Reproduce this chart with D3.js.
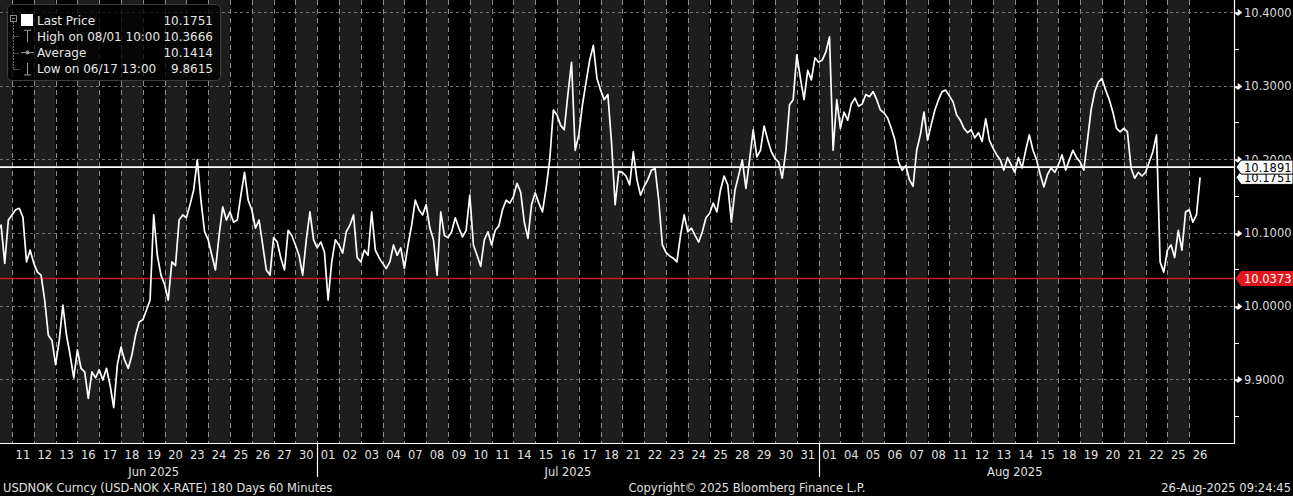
<!DOCTYPE html>
<html>
<head>
<meta charset="utf-8">
<script src="https://cdn.jsdelivr.net/npm/d3@7"></script>
<style>
  html, body { margin: 0; padding: 0; background: #000; overflow: hidden; }
  svg { display: block; }
  text { font-family: "DejaVu Sans", Verdana, sans-serif; }
</style>
</head>
<body>
<svg id="chart" width="1293" height="496"></svg>
<script>
// USDNOK hourly chart, Bloomberg style

const tradingDays = [
  "2025-06-10", "2025-06-11", "2025-06-12", "2025-06-13", "2025-06-16", "2025-06-17", "2025-06-18",
  "2025-06-19", "2025-06-20", "2025-06-23", "2025-06-24", "2025-06-25", "2025-06-26", "2025-06-27",
  "2025-06-30", "2025-07-01", "2025-07-02", "2025-07-03", "2025-07-04", "2025-07-07", "2025-07-08",
  "2025-07-09", "2025-07-10", "2025-07-11", "2025-07-14", "2025-07-15", "2025-07-16", "2025-07-17",
  "2025-07-18", "2025-07-21", "2025-07-22", "2025-07-23", "2025-07-24", "2025-07-25", "2025-07-28",
  "2025-07-29", "2025-07-30", "2025-07-31", "2025-08-01", "2025-08-04", "2025-08-05", "2025-08-06",
  "2025-08-07", "2025-08-08", "2025-08-11", "2025-08-12", "2025-08-13", "2025-08-14", "2025-08-15",
  "2025-08-18", "2025-08-19", "2025-08-20", "2025-08-21", "2025-08-22", "2025-08-25", "2025-08-26"
];

// prices read every 4 hours, one row per trading day
const prices = [
  [10.110, 10.124, 10.103, 10.110, 10.058, 10.117],
  [10.124, 10.131, 10.133, 10.121, 10.060, 10.076],
  [10.058, 10.046, 10.042, 10.008, 9.960, 9.953],
  [9.920, 9.953, 10.001, 9.960, 9.933, 9.902],
  [9.940, 9.915, 9.910, 9.874, 9.910, 9.902],
  [9.913, 9.899, 9.915, 9.892, 9.8615, 9.920],
  [9.944, 9.926, 9.915, 9.933, 9.960, 9.978],
  [9.981, 9.994, 10.008, 10.124, 10.069, 10.042],
  [10.029, 10.008, 10.060, 10.055, 10.117, 10.124],
  [10.120, 10.138, 10.158, 10.199, 10.144, 10.101],
  [10.090, 10.069, 10.049, 10.096, 10.135, 10.117],
  [10.128, 10.114, 10.117, 10.151, 10.182, 10.144],
  [10.131, 10.106, 10.117, 10.083, 10.049, 10.042],
  [10.093, 10.087, 10.065, 10.049, 10.103, 10.096],
  [10.083, 10.069, 10.042, 10.090, 10.128, 10.090],
  [10.079, 10.087, 10.073, 10.008, 10.060, 10.090],
  [10.083, 10.072, 10.101, 10.110, 10.124, 10.066],
  [10.060, 10.076, 10.069, 10.128, 10.076, 10.066],
  [10.058, 10.051, 10.060, 10.083, 10.069, 10.079],
  [10.051, 10.083, 10.110, 10.144, 10.131, 10.124],
  [10.138, 10.106, 10.090, 10.042, 10.128, 10.096],
  [10.093, 10.101, 10.120, 10.106, 10.094, 10.103],
  [10.151, 10.083, 10.069, 10.054, 10.090, 10.101],
  [10.083, 10.103, 10.109, 10.131, 10.144, 10.140],
  [10.149, 10.167, 10.155, 10.114, 10.092, 10.138],
  [10.154, 10.140, 10.128, 10.160, 10.199, 10.267],
  [10.260, 10.246, 10.240, 10.288, 10.332, 10.212],
  [10.233, 10.274, 10.305, 10.335, 10.355, 10.310],
  [10.294, 10.281, 10.288, 10.223, 10.138, 10.183],
  [10.182, 10.177, 10.165, 10.210, 10.172, 10.151],
  [10.163, 10.172, 10.185, 10.187, 10.144, 10.083],
  [10.073, 10.068, 10.065, 10.060, 10.096, 10.124],
  [10.101, 10.106, 10.096, 10.087, 10.101, 10.120],
  [10.126, 10.140, 10.128, 10.158, 10.177, 10.165],
  [10.114, 10.158, 10.178, 10.199, 10.160, 10.199],
  [10.240, 10.203, 10.212, 10.245, 10.226, 10.210],
  [10.201, 10.196, 10.174, 10.212, 10.274, 10.281],
  [10.342, 10.310, 10.281, 10.321, 10.308, 10.338],
  [10.332, 10.335, 10.346, 10.3666, 10.212, 10.281],
  [10.242, 10.264, 10.253, 10.275, 10.283, 10.272],
  [10.275, 10.288, 10.285, 10.292, 10.281, 10.267],
  [10.263, 10.256, 10.242, 10.226, 10.196, 10.185],
  [10.191, 10.172, 10.163, 10.212, 10.233, 10.264],
  [10.226, 10.247, 10.267, 10.281, 10.292, 10.294],
  [10.286, 10.278, 10.260, 10.253, 10.242, 10.236],
  [10.240, 10.229, 10.236, 10.224, 10.255, 10.226],
  [10.215, 10.206, 10.199, 10.185, 10.202, 10.192],
  [10.182, 10.202, 10.188, 10.212, 10.233, 10.212],
  [10.199, 10.179, 10.162, 10.179, 10.188, 10.182],
  [10.192, 10.206, 10.185, 10.199, 10.212, 10.202],
  [10.196, 10.185, 10.226, 10.267, 10.292, 10.305],
  [10.310, 10.294, 10.281, 10.264, 10.242, 10.237],
  [10.242, 10.237, 10.188, 10.174, 10.182, 10.177],
  [10.182, 10.196, 10.210, 10.233, 10.060, 10.046],
  [10.076, 10.083, 10.066, 10.103, 10.076, 10.128],
  [10.131, 10.114, 10.124, 10.1751]
];
const barsPerDay = 6;

const yMajorTicks = [9.9, 10.0, 10.1, 10.2, 10.3, 10.4];
const yMinorTicks = [9.85, 9.95, 10.05, 10.15, 10.25, 10.35];

const legendItems = [
  { label: "Last Price", value: "10.1751", icon: "square" },
  { label: "High on 08/01 10:00", value: "10.3666", icon: "high" },
  { label: "Average", value: "10.1414", icon: "avg" },
  { label: "Low on 06/17 13:00", value: "9.8615", icon: "low" }
];

const refLines = [
  { value: 10.1891, color: "#ffffff", tagFill: "#ffffff", tagText: "#000000" },
  { value: 10.0373, color: "#cc151c", tagFill: "#e3161e", tagText: "#ffffff" }
];
const lastPrice = 10.1751;

const footerLeft = "USDNOK Curncy (USD-NOK X-RATE) 180 Days 60 Minutes";
const footerMid = "Copyright\u00a9 2025 Bloomberg Finance L.P.";
const footerRight = "26-Aug-2025 09:24:45";

// layout
const W = 1293, H = 496;
const plot = { left: 0, top: 0, right: 1234, bottom: 443 };
const fontSize = 11.5;

const svg = d3.select("#chart");
const parseDay = d3.timeParse("%Y-%m-%d");
const days = tradingDays.map(parseDay);

// x runs over trading-day index so weekends leave no gaps
const x = d3.scaleLinear().domain([0, 56]).range([-9.8, 1211]);
const y = d3.scaleLinear().domain([9.8132, 10.4168]).range([plot.bottom, plot.top]);

svg.append("defs").append("clipPath")
    .attr("id", "plotClip")
  .append("rect")
    .attr("x", plot.left)
    .attr("y", plot.top)
    .attr("width", plot.right - plot.left)
    .attr("height", plot.bottom - plot.top);

const plotG = svg.append("g").attr("clip-path", "url(#plotClip)");

// alternating day bands
plotG.append("g")
  .selectAll("rect")
  .data(days)
  .enter().append("rect")
    .attr("x", (d, i) => x(i))
    .attr("y", plot.top)
    .attr("width", (d, i) => x(i + 1) - x(i))
    .attr("height", plot.bottom - plot.top)
    .attr("fill", (d, i) => i % 2 === 0 ? "#1d1d1d" : "#000000");

// dashed day separators
plotG.append("g")
  .selectAll("line")
  .data(d3.range(1, days.length))
  .enter().append("line")
    .attr("x1", i => Math.round(x(i)) + 0.5)
    .attr("x2", i => Math.round(x(i)) + 0.5)
    .attr("y1", plot.top)
    .attr("y2", plot.bottom)
    .attr("stroke", "#8c8c8c")
    .attr("stroke-width", 1)
    .attr("stroke-dasharray", "5,4");

// horizontal dashed grid
plotG.append("g")
  .selectAll("line")
  .data(yMajorTicks)
  .enter().append("line")
    .attr("x1", plot.left)
    .attr("x2", plot.right)
    .attr("y1", d => Math.round(y(d)) + 0.5)
    .attr("y2", d => Math.round(y(d)) + 0.5)
    .attr("stroke", "#6e6e6e")
    .attr("stroke-width", 1)
    .attr("stroke-dasharray", "3,3");

// reference lines
plotG.append("g")
  .selectAll("line")
  .data(refLines)
  .enter().append("line")
    .attr("x1", plot.left)
    .attr("x2", plot.right)
    .attr("y1", d => y(d.value))
    .attr("y2", d => y(d.value))
    .attr("stroke", d => d.color)
    .attr("stroke-width", 1.6);

// price line
const points = prices.flatMap((row, i) => row.map((v, k) => ({ t: i + k / barsPerDay, v: v })));
const line = d3.line()
    .x(d => x(d.t))
    .y(d => y(d.v));

plotG.append("path")
    .datum(points)
    .attr("d", line)
    .attr("fill", "none")
    .attr("stroke", "#ffffff")
    .attr("stroke-width", 1.7)
    .attr("stroke-linejoin", "round");

// plot frame (right and bottom)
svg.append("line")
    .attr("x1", plot.right + 0.5).attr("x2", plot.right + 0.5)
    .attr("y1", plot.top).attr("y2", plot.bottom + 1)
    .attr("stroke", "#ffffff").attr("stroke-width", 1.2);
svg.append("line")
    .attr("x1", plot.left).attr("x2", plot.right + 1)
    .attr("y1", plot.bottom + 0.5).attr("y2", plot.bottom + 0.5)
    .attr("stroke", "#ffffff").attr("stroke-width", 1.2);

// right axis
const axisG = svg.append("g");
axisG.selectAll(".minor")
  .data(yMinorTicks)
  .enter().append("line")
    .attr("x1", plot.right)
    .attr("x2", plot.right + 5)
    .attr("y1", d => Math.round(y(d)) + 0.5)
    .attr("y2", d => Math.round(y(d)) + 0.5)
    .attr("stroke", "#ffffff");

axisG.selectAll(".major")
  .data(yMajorTicks)
  .enter().append("path")
    .attr("d", d => {
      const yy = Math.round(y(d)) + 0.5;
      return `M${plot.right},${yy}H${plot.right + 4}V${yy - 3}L${plot.right + 8},${yy}L${plot.right + 4},${yy + 3}Z`;
    })
    .attr("fill", "#ffffff")
    .attr("stroke", "#ffffff")
    .attr("stroke-width", 0.6);

axisG.selectAll("text")
  .data(yMajorTicks)
  .enter().append("text")
    .attr("x", plot.right + 10)
    .attr("y", d => y(d) + 4.5)
    .attr("fill", "#dcdcdc")
    .attr("font-size", fontSize)
    .text(d => d3.format(".4f")(d));

// value tags on the axis
function drawTag(value, fill, textColor, stroke) {
  const yy = y(value);
  const g = svg.append("g");
  g.append("path")
      .attr("d", `M${plot.right + 2},${yy}L${plot.right + 7},${yy - 7}H${W}V${yy + 7}H${plot.right + 7}Z`)
      .attr("fill", fill)
      .attr("stroke", stroke)
      .attr("stroke-width", 1);
  g.append("text")
      .attr("x", plot.right + 10)
      .attr("y", yy + 4.5)
      .attr("fill", textColor)
      .attr("font-size", fontSize)
      .text(d3.format(".4f")(value));
}
drawTag(lastPrice, "#ffffff", "#000000", "#000000");
refLines.forEach(r => drawTag(r.value, r.tagFill, r.tagText, r.tagFill === "#ffffff" ? "#000000" : r.tagFill));

// bottom axis: day labels
const dayFmt = d3.timeFormat("%d");
svg.append("g")
  .selectAll("text")
  .data(days.slice(1))
  .enter().append("text")
    .attr("x", (d, i) => x(i + 1.5))
    .attr("y", 459)
    .attr("text-anchor", "middle")
    .attr("fill", "#e0e0e0")
    .attr("font-size", fontSize)
    .text(d => dayFmt(d));

// month labels and separators
const monthFmt = d3.timeFormat("%b %Y");
const months = d3.groups(days.map((d, i) => ({ d, i })), o => monthFmt(o.d));
months.forEach(([name, list], mi) => {
  const first = list[0].i, last = list[list.length - 1].i + 1;
  svg.append("text")
      .attr("x", (x(first) + x(last)) / 2)
      .attr("y", 476)
      .attr("text-anchor", "middle")
      .attr("fill", "#e0e0e0")
      .attr("font-size", fontSize)
      .text(name);
  if (mi > 0) {
    svg.append("line")
        .attr("x1", Math.round(x(first)) + 0.5)
        .attr("x2", Math.round(x(first)) + 0.5)
        .attr("y1", plot.bottom)
        .attr("y2", 477)
        .attr("stroke", "#ffffff")
        .attr("stroke-width", 1.2);
  }
});

// footer
svg.append("text").attr("x", 3).attr("y", 492)
    .attr("fill", "#e0e0e0").attr("font-size", fontSize).text(footerLeft);
svg.append("text").attr("x", 747).attr("y", 492).attr("text-anchor", "middle")
    .attr("fill", "#e0e0e0").attr("font-size", fontSize).text(footerMid);
svg.append("text").attr("x", 1291).attr("y", 492).attr("text-anchor", "end")
    .attr("fill", "#e0e0e0").attr("font-size", fontSize).text(footerRight);

// legend
const legend = svg.append("g");
legend.append("rect")
    .attr("x", 7.5).attr("y", 4.5)
    .attr("width", 213).attr("height", 76)
    .attr("rx", 4)
    .attr("fill", "#000000").attr("fill-opacity", 0.78)
    .attr("stroke", "#3c3c3c");

const rowY = i => 20 + i * 16.3;

// collapse box and tree lines
legend.append("rect")
    .attr("x", 10.5).attr("y", 15.5).attr("width", 6).attr("height", 6)
    .attr("fill", "none").attr("stroke", "#8a8a8a");
legend.append("line")
    .attr("x1", 12).attr("x2", 15).attr("y1", 18.5).attr("y2", 18.5)
    .attr("stroke", "#8a8a8a");
legend.append("line")
    .attr("x1", 13.5).attr("x2", 13.5).attr("y1", 22).attr("y2", rowY(3))
    .attr("stroke", "#6a6a6a").attr("stroke-dasharray", "2,1");

legendItems.forEach((item, i) => {
  const cy = rowY(i);
  if (i > 0) {
    legend.append("line")
        .attr("x1", 13.5).attr("x2", 19).attr("y1", Math.round(cy) + 0.5).attr("y2", Math.round(cy) + 0.5)
        .attr("stroke", "#6a6a6a").attr("stroke-dasharray", "2,1");
  }
  if (item.icon === "square") {
    legend.append("rect").attr("x", 21).attr("y", cy - 6).attr("width", 12).attr("height", 12)
        .attr("fill", "#ffffff");
  } else if (item.icon === "high") {
    legend.append("path").attr("d", `M24,${cy - 6}H31M27.5,${cy - 6}V${cy + 6}`)
        .attr("stroke", "#9a9a9a").attr("fill", "none");
  } else if (item.icon === "avg") {
    legend.append("line").attr("x1", 21).attr("x2", 34).attr("y1", cy).attr("y2", cy)
        .attr("stroke", "#9a9a9a");
    legend.append("circle").attr("cx", 27.5).attr("cy", cy).attr("r", 2)
        .attr("fill", "#9a9a9a");
  } else if (item.icon === "low") {
    legend.append("path").attr("d", `M27.5,${cy - 6}V${cy + 6}M24,${cy + 6}H31`)
        .attr("stroke", "#9a9a9a").attr("fill", "none");
  }
  legend.append("text")
      .attr("x", 37).attr("y", cy + 4.5)
      .attr("fill", "#e6e6e6").attr("font-size", 12)
      .text(item.label);
  legend.append("text")
      .attr("x", 213).attr("y", cy + 4.5)
      .attr("text-anchor", "end")
      .attr("fill", "#e6e6e6").attr("font-size", 12)
      .text(item.value);
});
</script>
</body>
</html>
